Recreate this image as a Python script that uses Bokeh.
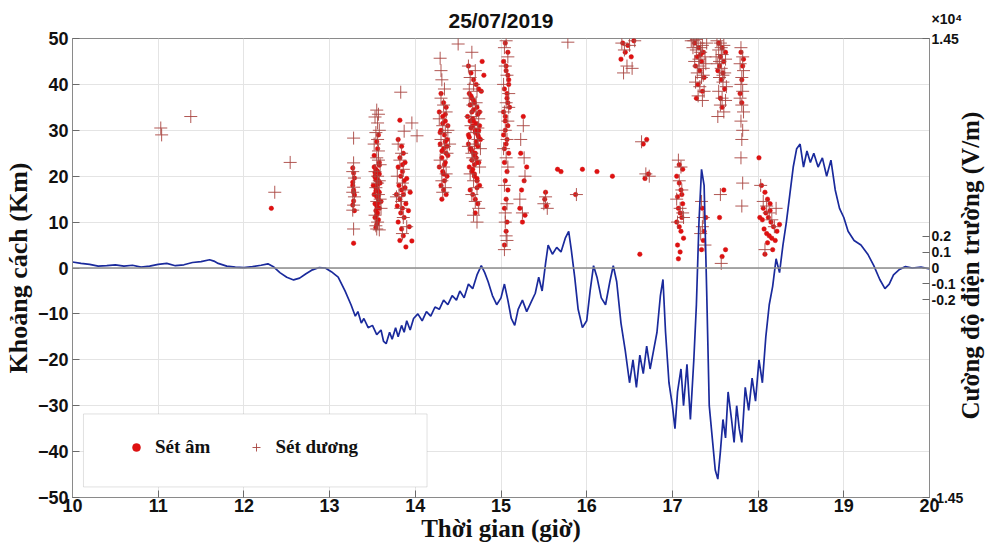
import math
from bokeh.plotting import figure
from bokeh.models import (Range1d, LinearAxis, FixedTicker, Span, Legend, LegendItem,
                          BoxAnnotation)
from bokeh.embed import file_html
from bokeh.resources import INLINE

# ---------------- data ----------------
hour_ticks = [10, 11, 12, 13, 14, 15, 16, 17, 18, 19, 20]
dist_ticks = [-50, -40, -30, -20, -10, 0, 10, 20, 30, 40, 50]
field_ticks = [-14500, -2000, -1000, 0, 1000, 2000, 14500]
field_labels = ["-1.45", "-0.2", "-0.1", "0", "0.1", "0.2", "×10⁴\n1.45\n "]
field_title = "Cường độ điện trường (V/m)"

# electric field (V/m)
field_time = [10.00, 10.10, 10.20, 10.30, 10.40, 10.50, 10.60, 10.70, 10.80, 10.90,
              11.00, 11.10, 11.20, 11.30, 11.40, 11.50, 11.60, 11.65, 11.70, 11.80,
              11.90, 12.00, 12.10, 12.20, 12.28, 12.35, 12.42, 12.50, 12.58, 12.65,
              12.72, 12.80, 12.88, 12.95, 13.02, 13.10, 13.18, 13.25, 13.30, 13.33,
              13.37, 13.40, 13.45, 13.50, 13.55, 13.60, 13.63, 13.66, 13.70, 13.73,
              13.77, 13.80, 13.84, 13.87, 13.90, 13.94, 13.98, 14.03, 14.08, 14.13,
              14.18, 14.23, 14.28, 14.33, 14.38, 14.43, 14.48, 14.52, 14.57, 14.62,
              14.67, 14.72, 14.77, 14.81, 14.85, 14.90, 14.95, 15.00, 15.04, 15.08,
              15.12, 15.16, 15.20, 15.25, 15.30, 15.35, 15.40, 15.44, 15.48, 15.52,
              15.55, 15.60, 15.65, 15.70, 15.75, 15.79, 15.82, 15.86, 15.90, 15.95,
              16.00, 16.04, 16.08, 16.12, 16.17, 16.22, 16.27, 16.31, 16.35, 16.40,
              16.45, 16.50, 16.54, 16.58, 16.62, 16.66, 16.70, 16.74, 16.78, 16.82,
              16.86, 16.89, 16.92, 16.96, 17.00, 17.03, 17.06, 17.10, 17.13, 17.17,
              17.21, 17.25, 17.28, 17.31, 17.34, 17.37, 17.40, 17.43, 17.47, 17.50,
              17.53, 17.56, 17.59, 17.62, 17.65, 17.69, 17.72, 17.75, 17.78, 17.81,
              17.85, 17.89, 17.93, 17.97, 18.01, 18.05, 18.09, 18.13, 18.17, 18.21,
              18.25, 18.29, 18.33, 18.37, 18.41, 18.45, 18.49, 18.53, 18.57, 18.61,
              18.65, 18.70, 18.75, 18.80, 18.85, 18.90, 18.95, 19.00, 19.05, 19.12,
              19.20, 19.28, 19.35, 19.42, 19.48, 19.53, 19.58, 19.65, 19.72, 19.80,
              19.90, 20.00]
field_vm = [377, 290, 232, 116, 145, 203, 116, 174, 58, 116,
            232, 290, 145, 203, 348, 406, 522, 435, 290, 116,
            58, 29, 87, 174, 261, 58, -290, -580, -754, -638,
            -377, -116, 29, 0, -232, -580, -1450, -2320, -3045, -2755,
            -3480, -3190, -3770, -3625, -4205, -3915, -4640, -4785, -4060, -4495,
            -3770, -4350, -3625, -4060, -3335, -3915, -3190, -2900, -3335, -2755,
            -3045, -2465, -2610, -2030, -2320, -1740, -2030, -1450, -1885, -1015,
            -1305, -435, 145, -290, -870, -1740, -2320, -1885, -1015, -2030,
            -3190, -3625, -2610, -2030, -2755, -2175, -1595, -580, -1450, 290,
            1450, 870, 1305, 1015, 1885, 2320, 1160, -580, -2610, -3770,
            -3335, -1450, 145, -580, -1885, -2320, -870, 145, -870, -3480,
            -5220, -7250, -5800, -7540, -5510, -6670, -4930, -6380, -5220, -4060,
            -1740, -725, -4060, -7250, -8700, -10150, -7830, -6380, -8700, -6090,
            -9570, -5800, -2320, 2900, 6235, 5220, -1450, -8700, -11020, -12760,
            -13340, -11600, -9570, -10730, -7830, -9570, -11020, -8700, -10150, -11020,
            -7540, -8990, -6960, -8410, -5800, -7250, -4350, -2320, -1160, 580,
            -290, 1450, 2900, 4640, 6380, 7540, 7830, 6380, 7395, 6670,
            7250, 6380, 6960, 5800, 6815, 4930, 3770, 3190, 2320, 1740,
            1450, 870, 145, -725, -1305, -1015, -435, -87, 87, 0,
            58, -58]

# negative lightning strokes (time h, distance km)
neg_time = [12.32,
            13.27, 13.28, 13.29, 13.27, 13.28, 13.29, 13.28, 13.27, 13.29, 13.28, 13.28, 13.27,
            13.52, 13.54, 13.56, 13.58, 13.53, 13.55, 13.57, 13.59, 13.51, 13.54, 13.56, 13.58, 13.52, 13.55, 13.57, 13.60, 13.53, 13.55, 13.58, 13.54,
            13.56, 13.53, 13.57, 13.55, 13.54, 13.58, 13.52, 13.56, 13.55, 13.57, 13.54, 13.56, 13.53, 13.55, 13.57, 13.56,
            13.55, 13.57, 13.53, 13.56, 13.54, 13.58, 13.55, 13.57,
            13.82, 13.80, 13.84, 13.86, 13.82, 13.88, 13.80, 13.85, 13.83, 13.87, 13.81, 13.84, 13.86, 13.82, 13.89, 13.85, 13.83, 13.87, 13.80, 13.84,
            13.86, 13.82, 13.89, 13.96, 13.92, 13.94, 13.90, 13.78, 13.79, 13.85, 13.93, 13.88,
            14.30, 14.33, 14.36, 14.28, 14.32, 14.35, 14.38, 14.30, 14.34, 14.37, 14.29, 14.33, 14.36, 14.31, 14.35, 14.28, 14.32, 14.37, 14.34, 14.30,
            14.33, 14.36, 14.31, 14.35, 14.29, 14.38, 14.32, 14.34, 14.31, 14.35, 14.33, 14.37,
            14.62, 14.65, 14.68, 14.71, 14.74, 14.63, 14.66, 14.69, 14.72, 14.75, 14.61, 14.64, 14.67, 14.70, 14.73, 14.76, 14.62, 14.65, 14.68, 14.71,
            14.74, 14.63, 14.66, 14.69, 14.72, 14.75, 14.64, 14.67, 14.70, 14.73, 14.65, 14.68, 14.71, 14.74, 14.66, 14.69, 14.72, 14.70, 14.78, 14.80,
            14.64, 14.67, 14.70, 14.73, 14.66, 14.69, 14.72, 14.68, 14.71, 14.75, 14.62, 14.77,
            14.65, 14.69, 14.73, 14.67, 14.71, 14.64, 14.68, 14.72, 14.66, 14.70, 14.74, 14.63,
            15.05, 15.08, 15.03, 15.06, 15.09, 15.04, 15.07, 15.10, 15.05, 15.08, 15.03, 15.06, 15.09, 15.04, 15.07, 15.05, 15.08, 15.06, 15.04, 15.07,
            15.06, 15.04, 15.08, 15.05, 15.07, 15.09, 15.03, 15.06, 15.05, 15.07, 15.04, 15.08,
            15.22, 15.25, 15.28, 15.24, 15.27, 15.23, 15.26, 15.30,
            15.51, 15.53, 15.52, 15.66, 15.70, 15.95, 16.12, 16.30, 15.87,
            16.42, 16.45, 16.48, 16.52, 16.55, 16.40,
            16.62, 16.66, 16.70, 16.72, 16.68,
            17.05, 17.08, 17.10, 17.06, 17.12, 17.07, 17.09, 17.11, 17.05, 17.08, 17.10, 17.13, 17.06, 17.09, 17.07, 17.11, 17.12, 17.08,
            17.26, 17.31, 17.36, 17.29, 17.34, 17.27, 17.32, 17.37, 17.30, 17.35, 17.28, 17.33,
            17.35, 17.37, 17.34, 17.39, 17.36,
            17.54, 17.58, 17.62, 17.56, 17.60, 17.55, 17.59, 17.57, 17.61, 17.56, 17.58, 17.53,
            17.60, 17.58, 17.62, 17.55,
            17.80, 17.82, 17.81, 17.79, 17.83, 17.81,
            18.01, 18.04, 18.08, 18.11, 18.14, 18.06, 18.09, 18.12, 18.15, 18.18, 18.07, 18.10, 18.13, 18.16, 18.20, 18.05, 18.11, 18.17, 18.22, 18.08, 18.14, 18.25, 18.02]
neg_km = [13.0,
          21.8, 20.7, 19.6, 18.0, 17.0, 15.9, 14.6, 13.7, 12.5, 5.4, 16.5, 18.7,
          22.0, 21.5, 21.0, 20.5, 20.0, 19.5, 19.0, 18.5, 18.0, 17.5, 17.0, 16.5, 16.0, 15.5, 15.0, 14.5, 14.0, 13.5, 13.0, 12.5,
          12.0, 11.0, 10.5, 9.5, 8.8, 23.0, 24.5, 26.0, 27.5, 29.0, 16.8, 18.2, 19.8, 21.2, 14.2, 10.0,
          17.2, 15.8, 20.8, 13.2, 19.2, 22.4, 11.6, 18.8,
          32.2, 28.0, 26.5, 25.0, 24.0, 23.0, 22.0, 21.0, 20.0, 19.0, 18.0, 17.0, 16.0, 15.0, 14.0, 13.0, 12.0, 11.0, 10.0, 8.5,
          7.0, 6.0, 4.6, 5.9, 12.5, 16.5, 19.5, 16.0, 13.5, 22.5, 9.0, 17.5,
          38.0, 36.0, 35.0, 34.0, 33.0, 32.0, 31.0, 30.0, 29.0, 28.0, 27.0, 26.0, 25.0, 24.0, 23.0, 22.0, 21.0, 20.0, 19.0, 18.0,
          17.0, 16.0, 15.0, 27.5, 29.5, 24.5, 31.5, 22.5, 25.5, 33.5, 20.5, 26.5,
          44.0, 42.5, 41.0, 40.0, 39.0, 38.0, 37.0, 36.0, 35.0, 34.0, 33.0, 32.0, 31.0, 30.0, 29.0, 28.0, 27.0, 26.0, 25.0, 24.0,
          23.0, 22.0, 21.0, 20.0, 19.0, 18.0, 17.0, 16.0, 15.0, 14.0, 37.5, 34.5, 31.5, 28.5, 25.5, 22.5, 19.5, 12.0, 45.0, 42.0,
          35.5, 32.5, 29.5, 26.5, 23.5, 20.5, 17.5, 36.5, 27.5, 31.0, 29.0, 38.5,
          30.5, 24.5, 33.5, 21.5, 27.0, 26.0, 32.0, 23.0, 34.0, 25.0, 30.0, 28.5,
          49.0, 47.0, 45.0, 43.0, 41.0, 39.0, 37.0, 35.0, 33.0, 31.0, 29.0, 27.0, 25.0, 23.0, 21.0, 19.0, 17.0, 15.0, 13.0, 10.0,
          8.0, 5.0, 36.0, 32.0, 28.0, 40.0, 34.0, 44.0, 30.0, 38.0, 26.0, 42.0,
          13.0, 10.0, 11.5, 17.0, 19.0, 25.0, 33.0, 22.0,
          15.0, 13.5, 16.5, 21.5, 21.0, 21.5, 21.0, 20.0, 16.0,
          49.0, 47.0, 48.5, 46.0, 49.5, 45.5,
          3.0, 27.0, 28.0, 20.5, 19.5,
          20.0, 18.5, 17.0, 15.5, 14.0, 13.0, 12.0, 11.0, 10.0, 9.0, 8.0, 6.5, 5.0, 3.5, 2.0, 16.0, 21.5, 22.5,
          49.0, 48.0, 47.0, 46.0, 45.0, 44.0, 43.0, 41.5, 40.0, 38.5, 37.0, 46.5,
          13.0, 8.0, 4.0, 11.0, 6.0,
          49.0, 48.0, 47.0, 46.0, 45.0, 44.0, 42.5, 41.0, 39.0, 37.0, 35.0, 43.0,
          17.0, 2.5, 4.0, 11.0,
          47.0, 44.0, 41.0, 38.0, 45.5, 36.0,
          24.0, 18.0, 16.5, 15.0, 14.0, 13.0, 12.0, 11.0, 10.0, 9.0, 8.5, 7.5, 7.0, 6.5, 6.0, 10.5, 5.5, 4.0, 8.0, 3.0, 12.5, 9.5, 11.0]

# positive lightning strokes (time h, distance km)
pos_time = [11.03, 11.04, 11.38, 12.36, 12.54,
            13.28, 13.28, 13.27, 13.29, 13.28, 13.27, 13.29, 13.28, 13.27, 13.28,
            13.55, 13.57, 13.53, 13.56, 13.58, 13.54, 13.56, 13.52, 13.57, 13.55, 13.59, 13.53, 13.56, 13.58, 13.54, 13.57, 13.55, 13.60, 13.53, 13.56,
            13.55, 13.58, 13.54, 13.57, 13.56, 13.59,
            13.83, 13.96, 14.02, 13.87, 13.80, 13.84, 13.82, 13.86, 13.79, 13.85, 13.88, 13.81, 13.84, 13.83, 13.86, 13.90, 13.78, 13.85,
            14.29, 14.31, 14.34, 14.30, 14.33, 14.36, 14.28, 14.32, 14.35, 14.30, 14.34, 14.37, 14.29, 14.33, 14.36, 14.31, 14.35, 14.32, 14.30, 14.38,
            14.50, 14.40,
            14.66, 14.62, 14.70, 14.64, 14.68, 14.72, 14.63, 14.67, 14.71, 14.74, 14.65, 14.69, 14.73, 14.62, 14.66, 14.70, 14.75, 14.64, 14.68, 14.72,
            14.66, 14.70, 14.74, 14.68, 14.72, 14.65, 14.69, 14.73, 14.67, 14.71, 14.63, 14.76,
            15.06, 15.04, 15.08, 15.05, 15.07, 15.03, 15.09, 15.06, 15.04, 15.08, 15.05, 15.07, 15.03, 15.06, 15.08, 15.04, 15.07, 15.05, 15.06, 15.04,
            15.07, 15.05, 15.09,
            15.26, 15.23, 15.28, 15.25, 15.22, 15.27,
            15.52, 15.50, 15.54, 15.78, 15.88,
            16.41, 16.44, 16.47, 16.50, 16.53, 16.43, 16.56,
            16.64, 16.69, 16.73,
            17.07, 17.10, 17.05, 17.09, 17.12, 17.06, 17.08, 17.11, 17.13,
            17.25, 17.30, 17.35, 17.28, 17.33, 17.38, 17.26, 17.31, 17.36, 17.29, 17.34, 17.27, 17.32, 17.37, 17.30, 17.35, 17.28, 17.33, 17.31, 17.36,
            17.24, 17.39, 17.40, 17.22,
            17.34, 17.36, 17.33, 17.38, 17.35,
            17.52, 17.56, 17.60, 17.54, 17.58, 17.62, 17.53, 17.57, 17.61, 17.55, 17.59, 17.63, 17.54, 17.58, 17.56, 17.60, 17.53, 17.57, 17.55, 17.59,
            17.62, 17.51,
            17.56, 17.57,
            17.80, 17.82, 17.79, 17.83, 17.81, 17.80, 17.82, 17.79, 17.81, 17.83, 17.80, 17.82, 17.81, 17.80, 17.82, 17.81,
            18.03, 18.06, 18.10, 18.13, 18.16, 18.19, 18.08, 18.21]
pos_km = [30.5, 29.0, 33.0, 16.5, 23.0,
          28.3, 22.9, 21.0, 19.6, 17.6, 16.5, 15.5, 13.7, 12.6, 8.5,
          34.4, 33.5, 32.9, 31.6, 30.0, 29.5, 28.0, 27.0, 25.5, 24.0, 22.5, 21.0, 20.0, 19.0, 17.5, 16.0, 14.5, 13.0, 11.5, 10.0,
          8.5, 8.3, 9.2, 23.5, 18.5, 15.0,
          38.3, 31.6, 28.8, 29.8, 27.0, 25.0, 23.5, 21.5, 20.0, 18.5, 17.0, 16.0, 14.5, 13.0, 11.0, 9.0, 15.5, 7.5,
          45.7, 41.0, 39.0, 37.0, 35.5, 34.0, 32.5, 31.0, 29.5, 28.0, 26.5, 25.0, 23.5, 22.0, 20.5, 19.0, 17.5, 16.5, 43.0, 30.0,
          48.8, 27.0,
          47.0, 44.0, 43.0, 41.5, 40.0, 38.5, 37.0, 35.5, 34.0, 32.5, 31.0, 29.5, 28.0, 26.5, 25.0, 23.5, 22.0, 20.5, 19.0, 17.5,
          16.0, 14.5, 13.0, 11.5, 10.0, 33.0, 27.0, 30.5, 24.0, 36.0, 39.0, 26.0,
          49.5, 48.0, 46.0, 44.0, 42.0, 40.0, 38.0, 36.0, 34.0, 32.0, 30.0, 28.0, 26.0, 24.0, 22.0, 18.0, 14.0, 10.0, 7.0, 4.0,
          6.0, 12.0, 35.0,
          31.0, 28.0, 20.0, 12.0, 15.0, 24.0,
          15.5, 14.0, 13.0, 49.2, 16.0,
          49.0, 47.5, 44.0, 48.5, 43.5, 42.5, 49.5,
          27.5, 20.5, 20.0,
          23.5, 22.0, 15.0, 13.0, 12.0, 10.0, 19.0, 17.0, 11.0,
          49.5, 49.0, 48.5, 47.5, 47.0, 46.0, 45.0, 44.0, 43.5, 42.5, 41.5, 40.5, 39.5, 38.5, 37.5, 36.5, 49.8, 48.0, 45.5, 42.0,
          48.0, 44.5, 49.0, 49.5,
          14.5, 11.0, 7.5, 5.0, 9.0,
          49.5, 49.0, 48.5, 47.5, 46.5, 45.5, 44.5, 43.5, 42.5, 41.5, 40.5, 39.5, 38.5, 37.0, 35.5, 34.0, 33.0, 48.0, 45.0, 42.0,
          36.5, 46.0,
          16.0, 1.0,
          48.0, 46.0, 44.5, 43.0, 41.5, 40.0, 38.5, 37.0, 35.5, 34.0, 32.0, 30.0, 28.0, 24.0, 18.5, 13.5,
          18.0, 14.5, 13.5, 12.0, 10.5, 9.0, 4.0, 13.0]

n_neg = min(len(neg_time), len(neg_km))
n_pos = min(len(pos_time), len(pos_km))

# ---------------- figure ----------------
SANS = "Liberation Sans"
SERIF = "Liberation Serif"

p = figure(width=1000, height=544, x_range=Range1d(10, 20), y_range=Range1d(-50, 50),
           output_backend="svg", toolbar_location=None,
           min_border_left=65, min_border_right=0, min_border_top=30, min_border_bottom=0)
p.extra_y_ranges = {"field": Range1d(-14500, 14500), "ttl": Range1d(-1, 1)}

p.title.text = "25/07/2019"
p.title.align = "center"
p.title.text_font = SANS
p.title.text_font_style = "bold"
p.title.text_font_size = "21px"
p.title.text_color = "#111111"
p.title.standoff = 13

p.background_fill_color = "white"
p.border_fill_color = "white"
p.outline_line_color = "#8a8a8a"
p.outline_line_width = 1

p.xgrid.grid_line_color = "#e4e4e4"
p.ygrid.grid_line_color = "#e4e4e4"

def style_axis(ax, size="18px"):
    ax.major_label_text_font = SANS
    ax.major_label_text_font_style = "bold"
    ax.major_label_text_font_size = size
    ax.major_label_text_color = "#111111"
    ax.axis_label_text_font = SERIF
    ax.axis_label_text_font_style = "bold"
    ax.axis_label_text_font_size = "26px"
    ax.axis_label_text_color = "#111111"
    ax.axis_line_color = "#8a8a8a"
    ax.major_tick_line_color = "#6a6a6a"
    ax.major_tick_in = 7
    ax.major_tick_out = 0
    ax.minor_tick_line_color = None
    ax.major_label_standoff = 4
    ax.axis_label_standoff = 2

p.xaxis.ticker = FixedTicker(ticks=hour_ticks)
p.yaxis.ticker = FixedTicker(ticks=dist_ticks)
p.xaxis.axis_label = "Thời gian (giờ)"
p.yaxis.axis_label = "Khoảng cách (Km)"
style_axis(p.xaxis[0])
style_axis(p.yaxis[0])
p.xaxis.major_label_standoff = 1
p.xaxis.axis_label_standoff = 0
p.xaxis.axis_label_text_font_size = "25px"

# right axis with field values
rax = LinearAxis(y_range_name="field", ticker=FixedTicker(ticks=field_ticks))
rax.major_label_overrides = {t: l for t, l in zip(field_ticks, field_labels)}
style_axis(rax, "14px")
rax.major_label_standoff = 2
p.add_layout(rax, "right")

# right axis title, drawn as a rotated label reading bottom-to-top
tax = LinearAxis(y_range_name="ttl", ticker=FixedTicker(ticks=[-0.66]))
tax.major_label_overrides = {-0.66: field_title}
tax.major_label_orientation = math.pi / 2
tax.major_label_text_font = SERIF
tax.major_label_text_font_style = "bold"
tax.major_label_text_font_size = "25px"
tax.major_label_text_color = "#111111"
tax.major_label_standoff = -2
tax.axis_line_color = None
tax.major_tick_line_color = None
tax.minor_tick_line_color = None
p.add_layout(tax, "right")

p.add_layout(Span(location=0, dimension="width", line_color="#8c8c8c", line_width=1.5))

neg_r = p.scatter(neg_time[:n_neg], neg_km[:n_neg], marker="circle", size=4.5,
                  fill_color="#e01010", line_color="#d01010", line_width=0.5)
pos_r = p.scatter(pos_time[:n_pos], pos_km[:n_pos], marker="cross", size=13,
                  line_color="#a84540", line_width=1, line_alpha=0.9)

p.line(field_time, field_vm, y_range_name="field", line_color="#1a2a9c", line_width=1.7)

box = BoxAnnotation(left=10.128, right=14.137, bottom=-47.7, top=-31.8,
                    fill_color="white", fill_alpha=1.0, line_color="#9a9a9a", line_width=1)
p.add_layout(box)

legend = Legend(items=[LegendItem(label="Sét âm", renderers=[neg_r]),
                       LegendItem(label="Sét dương", renderers=[pos_r])],
                location=(54, 39), orientation="horizontal", padding=0, margin=0,
                spacing=36, glyph_width=20, glyph_height=20, label_standoff=9,
                border_line_alpha=0, background_fill_alpha=0,
                label_text_font=SERIF, label_text_font_style="bold",
                label_text_font_size="19px", label_text_color="#111111")
p.add_layout(legend)

open("out.html", "w").write(file_html(p, INLINE))
